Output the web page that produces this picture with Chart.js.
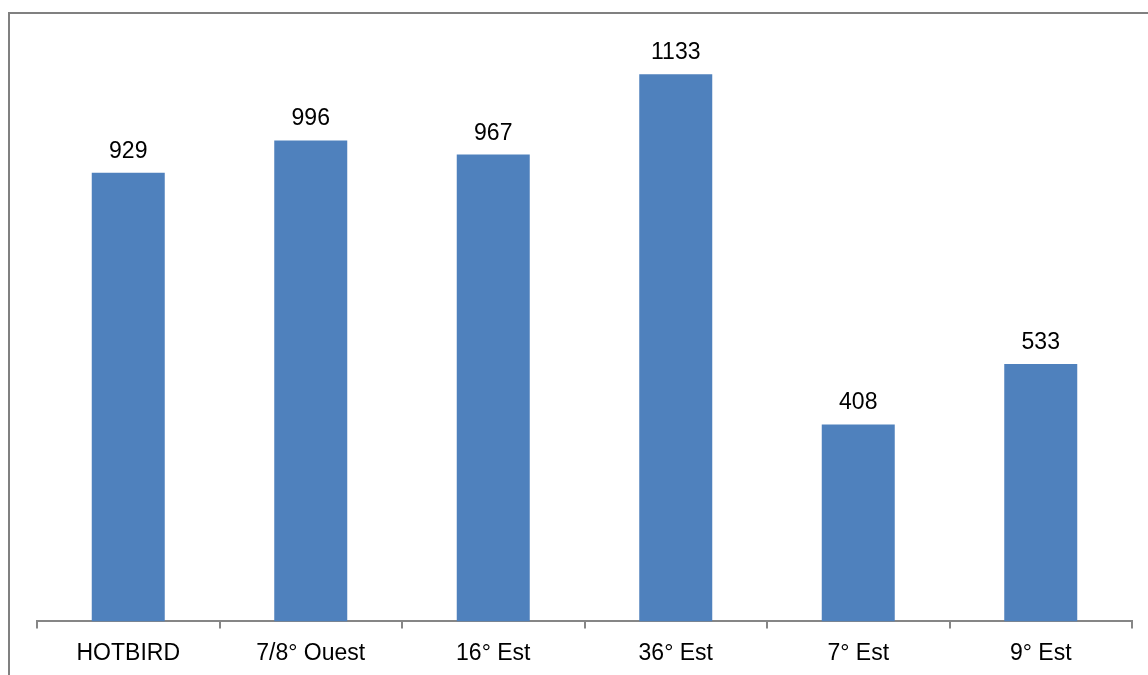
<!DOCTYPE html>
<html>
<head>
<meta charset="utf-8">
<script src="https://cdn.jsdelivr.net/npm/chart.js@4/dist/chart.umd.min.js"></script>
<style>
  html, body { margin: 0; padding: 0; background: #fff; }
  #wrap { position: relative; width: 1148px; height: 675px; overflow: hidden; }
  #frame { position: absolute; left: 8px; top: 12px; width: 1200px; height: 700px;
           border-left: 2px solid #808080; border-top: 2px solid #808080; }
  canvas { position: absolute; left: 0; top: 0; }
</style>
</head>
<body>
<div id="wrap">
  <div id="frame"></div>
  <canvas id="barChart" width="1148" height="685"></canvas>
</div>
<script>
const categories = ["HOTBIRD", "7/8° Ouest", "16° Est", "36° Est", "7° Est", "9° Est"];
const values = [929, 996, 967, 1133, 408, 533];

const labelFont = '"Liberation Sans", Arial, sans-serif';

const valueLabels = {
  id: "valueLabels",
  afterDatasetsDraw(chart) {
    const ctx = chart.ctx;
    const meta = chart.getDatasetMeta(0);
    ctx.save();
    ctx.font = "23px " + labelFont;
    ctx.fillStyle = "#000";
    ctx.textAlign = "center";
    ctx.textBaseline = "alphabetic";
    meta.data.forEach((bar, i) => {
      ctx.fillText(String(values[i]), bar.x, bar.y - 15);
    });
    ctx.restore();
  }
};

function loadBarChart() {
  const canvas = document.getElementById("barChart");
  if (!canvas) return;

  new Chart(canvas, {
    type: "bar",
    data: {
      labels: categories,
      datasets: [{
        data: values,
        backgroundColor: "#4F81BD",
        categoryPercentage: 1,
        barPercentage: 0.4
      }]
    },
    options: {
      responsive: false,
      animation: false,
      layout: { padding: { left: 37, right: 16, top: 42, bottom: 7 } },
      plugins: {
        legend: { display: false },
        tooltip: { enabled: false }
      },
      scales: {
        y: { display: false, min: 0, max: 1200 },
        x: {
          offset: true,
          border: { display: true, color: "#868686", width: 2 },
          grid: {
            offset: true,
            drawOnChartArea: false,
            drawTicks: true,
            tickLength: 7,
            color: "#868686",
            lineWidth: 2
          },
          ticks: {
            color: "#000",
            padding: 11,
            maxRotation: 0,
            font: { family: labelFont, size: 23 }
          }
        }
      }
    },
    plugins: [valueLabels]
  });
}

loadBarChart();
</script>
</body>
</html>
